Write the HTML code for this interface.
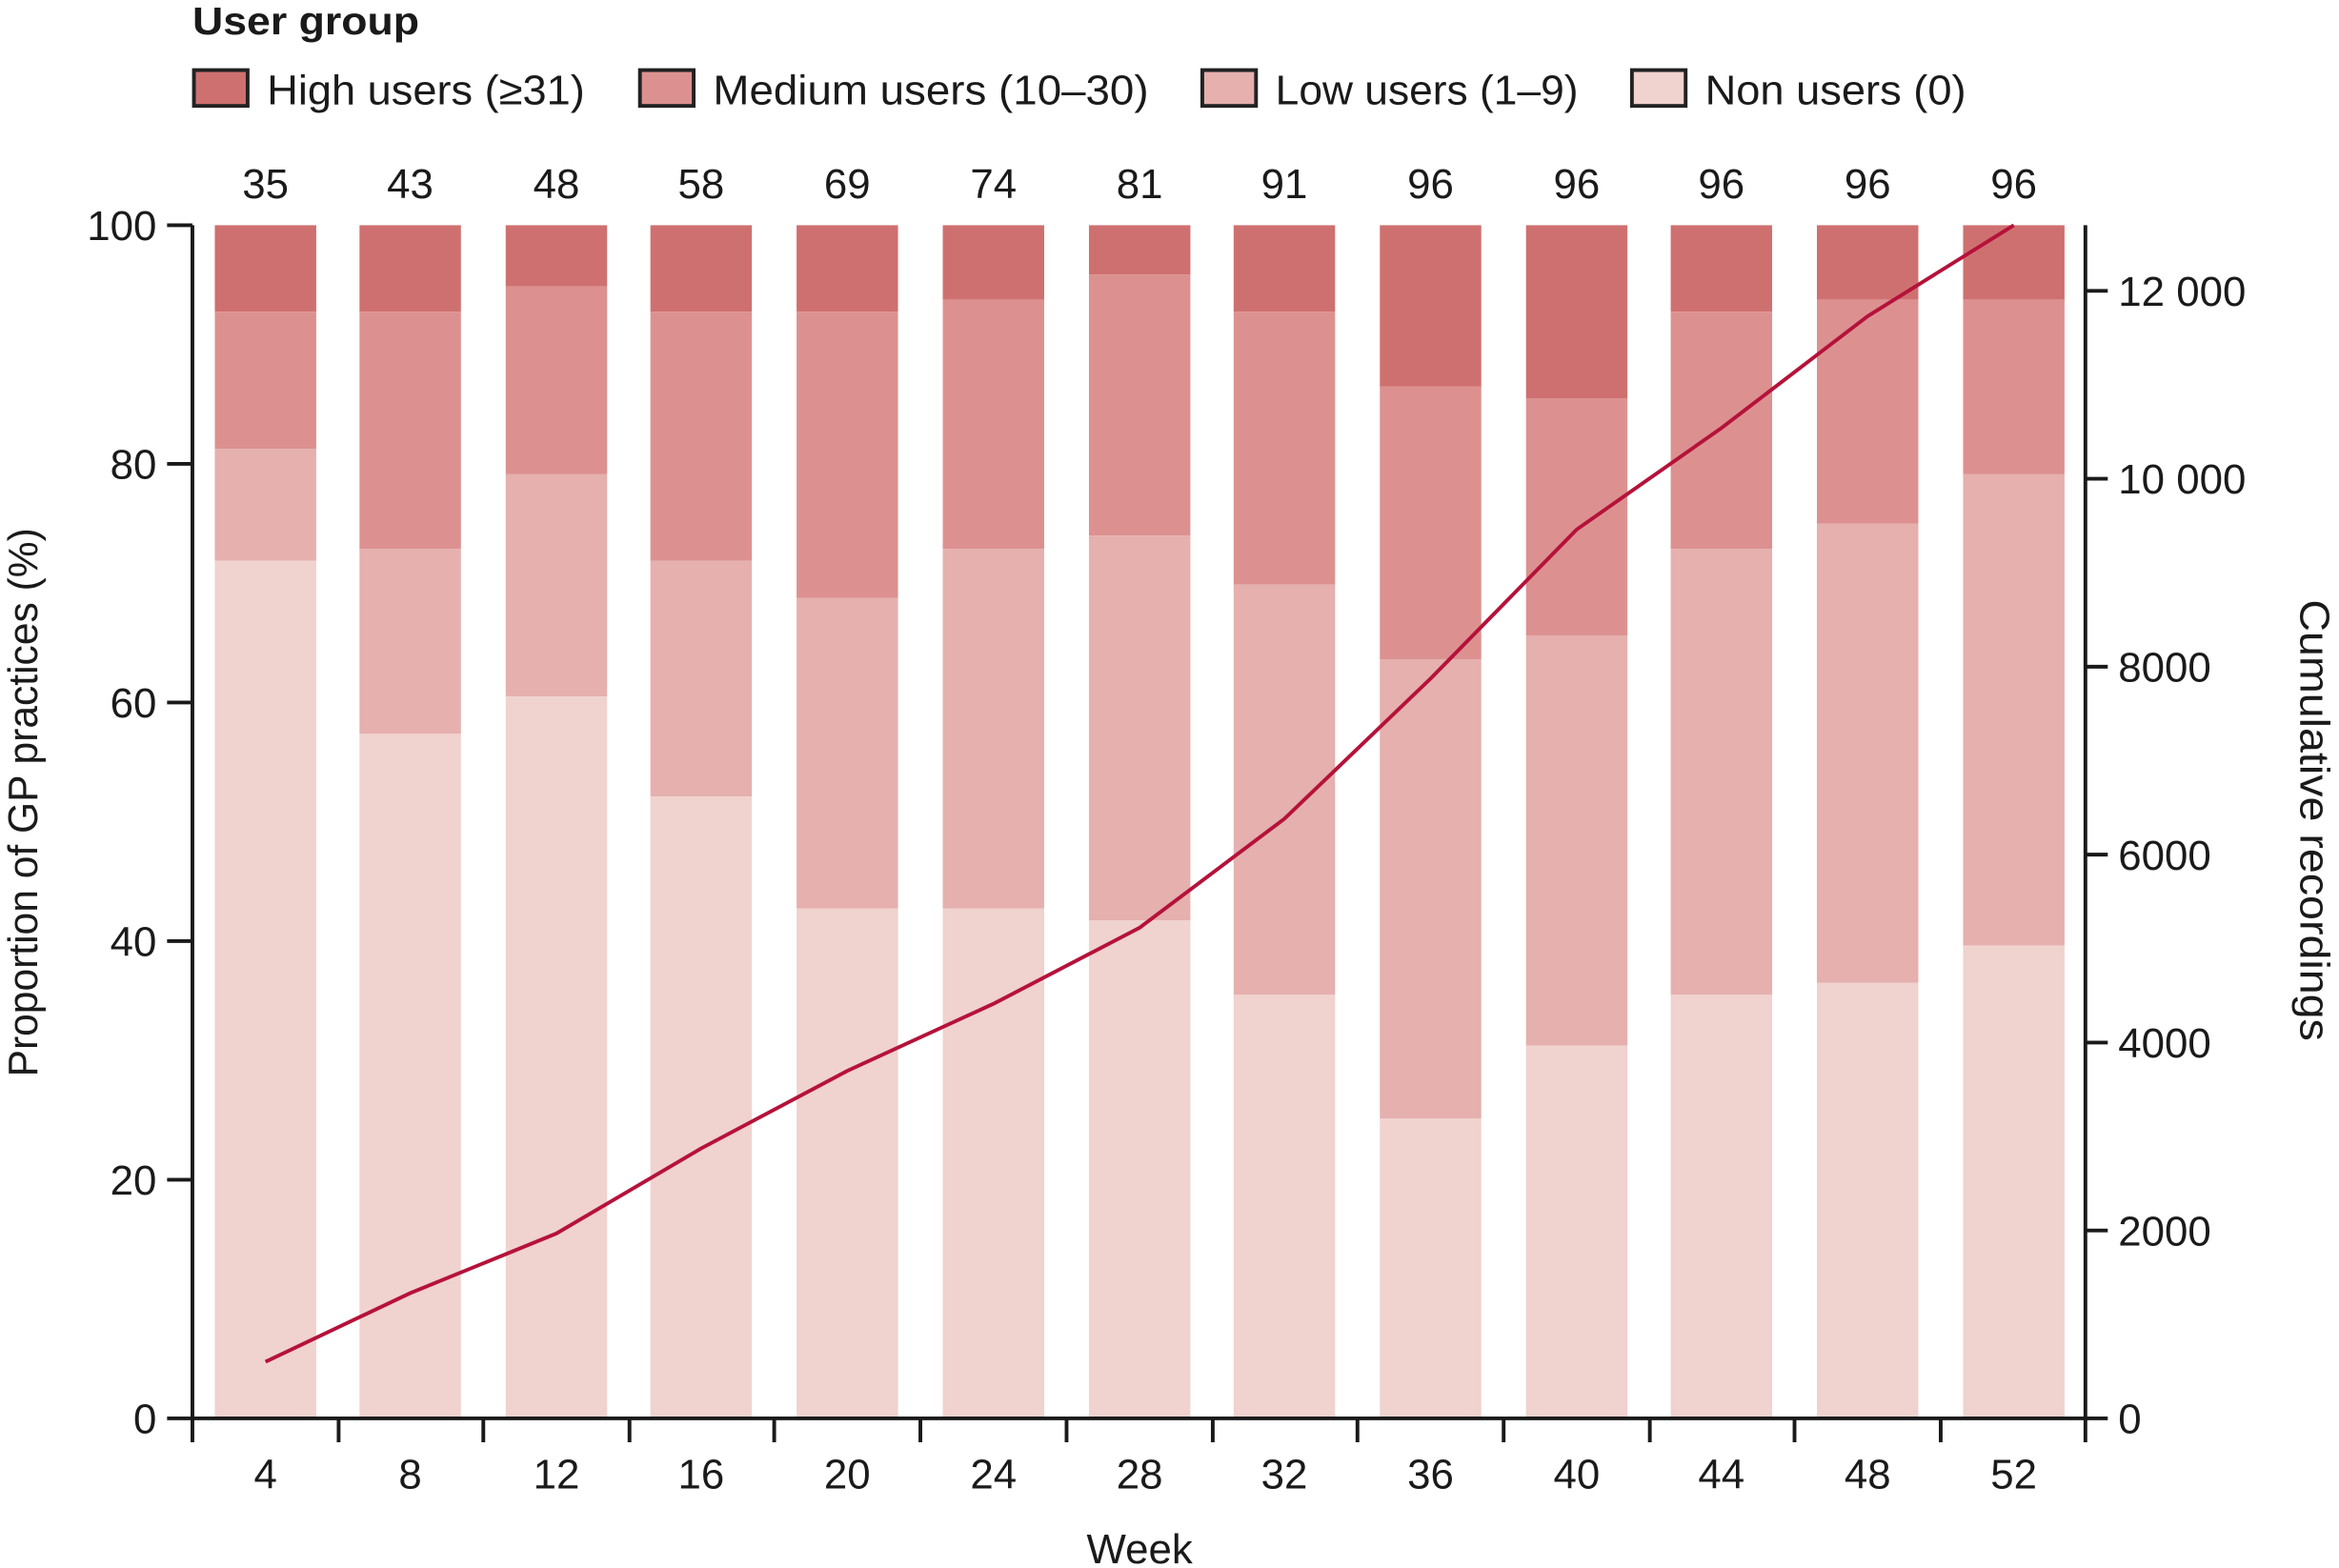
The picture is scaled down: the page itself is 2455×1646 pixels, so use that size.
<!DOCTYPE html>
<html><head><meta charset="utf-8"><style>html,body{margin:0;padding:0;background:#fff}svg{display:block}text{font-family:"Liberation Sans",sans-serif;fill:#1a1a1a}</style></head>
<body>
<svg width="2455" height="1646" viewBox="0 0 1568 1051.3" xmlns="http://www.w3.org/2000/svg">
<g id="bars"></g>
<text x="129" y="23" font-size="26" font-weight="bold" textLength="152" lengthAdjust="spacingAndGlyphs">User group</text>
<g stroke="#222" stroke-width="2.5">
<rect x="130" y="47" width="36" height="24" fill="#cf7070"/>
<rect x="429" y="47" width="36" height="24" fill="#dc9190"/>
<rect x="806" y="47" width="36" height="24" fill="#e5b0ae"/>
<rect x="1094" y="47" width="36" height="24" fill="#f0d2ce"/>
</g>
<g font-size="28">
<text x="179" y="70" textLength="213" lengthAdjust="spacingAndGlyphs">High users (≥31)</text>
<text x="478" y="70" textLength="292" lengthAdjust="spacingAndGlyphs">Medium users (10–30)</text>
<text x="855" y="70" textLength="203" lengthAdjust="spacingAndGlyphs">Low users (1–9)</text>
<text x="1143" y="70" textLength="175" lengthAdjust="spacingAndGlyphs">Non users (0)</text>
</g>
<g font-size="28" text-anchor="middle">
<text x="178" y="133">35</text><text x="275" y="133">43</text><text x="373" y="133">48</text><text x="470" y="133">58</text><text x="568" y="133">69</text><text x="666" y="133">74</text><text x="764" y="133">81</text><text x="861" y="133">91</text><text x="959" y="133">96</text><text x="1057" y="133">96</text><text x="1154" y="133">96</text><text x="1252" y="133">96</text><text x="1350" y="133">96</text>
</g>
<!-- bars -->
<g>
<rect x="144" y="151" width="68" height="58" fill="#cf7070"/><rect x="144" y="209" width="68" height="92" fill="#dc9190"/><rect x="144" y="301" width="68" height="75" fill="#e5b0ae"/><rect x="144" y="376" width="68" height="575" fill="#f0d2ce"/>
<rect x="241" y="151" width="68" height="58" fill="#cf7070"/><rect x="241" y="209" width="68" height="159" fill="#dc9190"/><rect x="241" y="368" width="68" height="124" fill="#e5b0ae"/><rect x="241" y="492" width="68" height="459" fill="#f0d2ce"/>
<rect x="339" y="151" width="68" height="41" fill="#cf7070"/><rect x="339" y="192" width="68" height="126" fill="#dc9190"/><rect x="339" y="318" width="68" height="149" fill="#e5b0ae"/><rect x="339" y="467" width="68" height="484" fill="#f0d2ce"/>
<rect x="436" y="151" width="68" height="58" fill="#cf7070"/><rect x="436" y="209" width="68" height="167" fill="#dc9190"/><rect x="436" y="376" width="68" height="158" fill="#e5b0ae"/><rect x="436" y="534" width="68" height="417" fill="#f0d2ce"/>
<rect x="534" y="151" width="68" height="58" fill="#cf7070"/><rect x="534" y="209" width="68" height="192" fill="#dc9190"/><rect x="534" y="401" width="68" height="208" fill="#e5b0ae"/><rect x="534" y="609" width="68" height="342" fill="#f0d2ce"/>
<rect x="632" y="151" width="68" height="50" fill="#cf7070"/><rect x="632" y="201" width="68" height="167" fill="#dc9190"/><rect x="632" y="368" width="68" height="241" fill="#e5b0ae"/><rect x="632" y="609" width="68" height="342" fill="#f0d2ce"/>
<rect x="730" y="151" width="68" height="33" fill="#cf7070"/><rect x="730" y="184" width="68" height="175" fill="#dc9190"/><rect x="730" y="359" width="68" height="258" fill="#e5b0ae"/><rect x="730" y="617" width="68" height="334" fill="#f0d2ce"/>
<rect x="827" y="151" width="68" height="58" fill="#cf7070"/><rect x="827" y="209" width="68" height="183" fill="#dc9190"/><rect x="827" y="392" width="68" height="275" fill="#e5b0ae"/><rect x="827" y="667" width="68" height="284" fill="#f0d2ce"/>
<rect x="925" y="151" width="68" height="108" fill="#cf7070"/><rect x="925" y="259" width="68" height="183" fill="#dc9190"/><rect x="925" y="442" width="68" height="308" fill="#e5b0ae"/><rect x="925" y="750" width="68" height="201" fill="#f0d2ce"/>
<rect x="1023" y="151" width="68" height="116" fill="#cf7070"/><rect x="1023" y="267" width="68" height="159" fill="#dc9190"/><rect x="1023" y="426" width="68" height="275" fill="#e5b0ae"/><rect x="1023" y="701" width="68" height="250" fill="#f0d2ce"/>
<rect x="1120" y="151" width="68" height="58" fill="#cf7070"/><rect x="1120" y="209" width="68" height="159" fill="#dc9190"/><rect x="1120" y="368" width="68" height="299" fill="#e5b0ae"/><rect x="1120" y="667" width="68" height="284" fill="#f0d2ce"/>
<rect x="1218" y="151" width="68" height="50" fill="#cf7070"/><rect x="1218" y="201" width="68" height="150" fill="#dc9190"/><rect x="1218" y="351" width="68" height="308" fill="#e5b0ae"/><rect x="1218" y="659" width="68" height="292" fill="#f0d2ce"/>
<rect x="1316" y="151" width="68" height="50" fill="#cf7070"/><rect x="1316" y="201" width="68" height="117" fill="#dc9190"/><rect x="1316" y="318" width="68" height="316" fill="#e5b0ae"/><rect x="1316" y="634" width="68" height="317" fill="#f0d2ce"/>
</g>
<polyline fill="none" stroke="#b5123a" stroke-width="2.5" points="178,913 275,867 373,827 470,770 568,718 666,673 764,622 861,549 959,455 1057,355 1154,287 1252,212 1350,151"/>
<g stroke="#1a1a1a" stroke-width="2.5" fill="none">
<path d="M129,151 V951 H1398 V151"/>
<path d="M112,151H129M112,311H129M112,471H129M112,631H129M112,791H129M112,951H129"/>
<path d="M1398,195H1413M1398,321H1413M1398,447H1413M1398,573H1413M1398,699H1413M1398,825H1413M1398,951H1413"/>
<path d="M129,951V967M227,951V967M324,951V967M422,951V967M519,951V967M617,951V967M715,951V967M813,951V967M910,951V967M1008,951V967M1106,951V967M1203,951V967M1301,951V967M1398,951V967"/>
</g>
<g font-size="28" text-anchor="end">
<text x="105" y="161">100</text><text x="105" y="321">80</text><text x="105" y="481">60</text><text x="105" y="641">40</text><text x="105" y="801">20</text><text x="105" y="961">0</text>
</g>
<g font-size="28">
<text x="1420" y="205">12 000</text><text x="1420" y="331">10 000</text><text x="1420" y="457">8000</text><text x="1420" y="583">6000</text><text x="1420" y="709">4000</text><text x="1420" y="835">2000</text><text x="1420" y="961">0</text>
</g>
<g font-size="28" text-anchor="middle">
<text x="178" y="998">4</text><text x="275" y="998">8</text><text x="373" y="998">12</text><text x="470" y="998">16</text><text x="568" y="998">20</text><text x="666" y="998">24</text><text x="764" y="998">28</text><text x="861" y="998">32</text><text x="959" y="998">36</text><text x="1057" y="998">40</text><text x="1154" y="998">44</text><text x="1252" y="998">48</text><text x="1350" y="998">52</text>
<text x="764" y="1048">Week</text>
<text transform="translate(25,538) rotate(-90)" textLength="368" lengthAdjust="spacingAndGlyphs">Proportion of GP practices (%)</text>
<text transform="translate(1542,550) rotate(90)" textLength="296" lengthAdjust="spacingAndGlyphs">Cumulative recordings</text>
</g>
</svg>
</body></html>
